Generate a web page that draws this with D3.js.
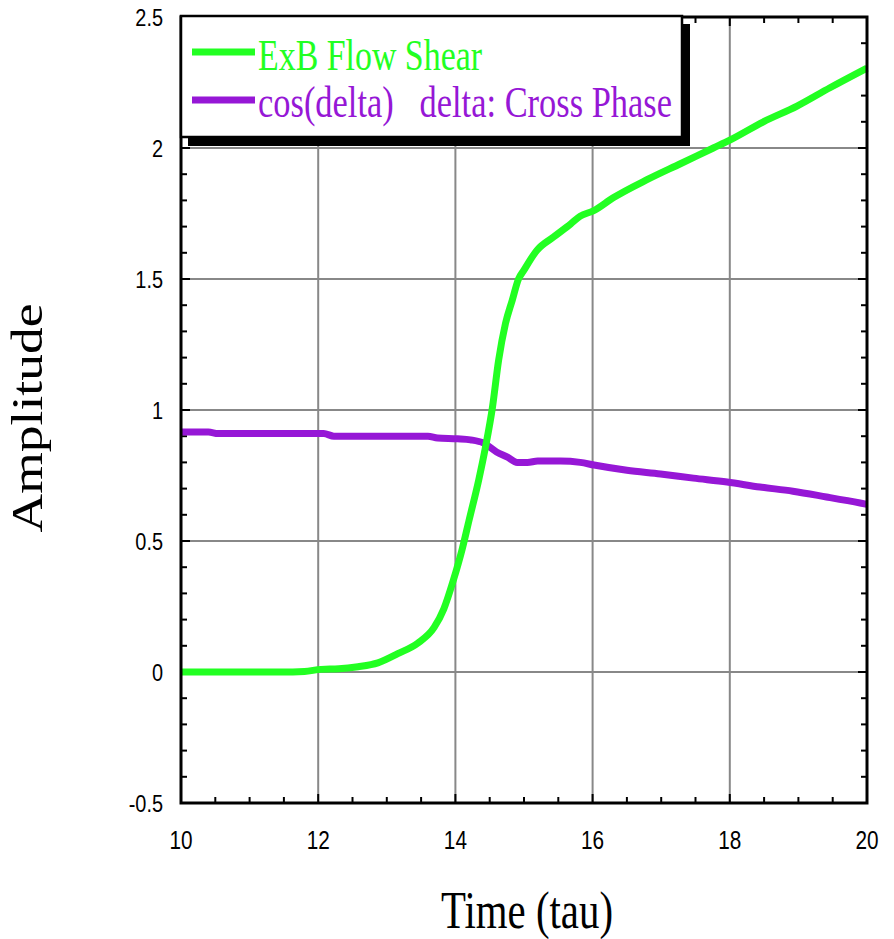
<!DOCTYPE html>
<html>
<head>
<meta charset="utf-8">
<script src="https://cdn.jsdelivr.net/npm/d3@7"></script>
<style>
  body { margin: 0; background: #fff; }
  svg { display: block; }
</style>
</head>
<body>
<div id="chart"></div>
<script>
// values
var shearTime = [10, 11, 11.46, 11.8, 12.04, 12.3, 12.58, 12.87, 13.16, 13.45, 13.69, 13.83, 13.97, 14.1, 14.2, 14.34, 14.44,
  14.54, 14.63, 14.73, 14.83, 14.92, 14.99, 15.19, 15.43, 15.68, 15.82, 16.01, 16.3, 16.8, 17.28, 17.76, 18.0,
  18.49, 18.98, 19.46, 20];
var shearValue = [0, 0, 0, 0.002, 0.01, 0.012, 0.02, 0.035, 0.07, 0.11, 0.17, 0.24, 0.35, 0.47, 0.58, 0.733, 0.86,
  1.01, 1.19, 1.33, 1.42, 1.5, 1.53, 1.61, 1.66, 1.71, 1.74, 1.76, 1.81, 1.88, 1.94, 2.0, 2.03,
  2.1, 2.16, 2.23, 2.305];

var cosTime = [10, 10.4, 10.54, 12.08, 12.23, 13.6, 13.74, 14.03, 14.22, 14.41, 14.6, 14.76, 14.9, 15.05, 15.2,
  15.53, 15.82, 16.02, 16.5, 16.99, 17.47, 17.96, 18.44, 18.92, 19.41, 19.9, 20];
var cosValue = [0.916, 0.916, 0.91, 0.91, 0.9, 0.9, 0.893, 0.89, 0.886, 0.874, 0.84, 0.82, 0.8, 0.8, 0.805,
  0.805, 0.8, 0.79, 0.77, 0.756, 0.74, 0.725, 0.706, 0.69, 0.668, 0.645, 0.64];

var xMajor = [10, 12, 14, 16, 18, 20];
var yMajor = [-0.5, 0, 0.5, 1, 1.5, 2, 2.5];
var legendLabels = ["ExB Flow Shear", "cos(delta)   delta: Cross Phase"];

var green = "#22ff22";
var purple = "#9617d6";

var svgWidth = 894, svgHeight = 939;
var margin = { top: 17, right: 27, bottom: 136, left: 181 };
var width = svgWidth - margin.left - margin.right;
var height = svgHeight - margin.top - margin.bottom;

var svg = d3.select("#chart").append("svg")
  .attr("width", svgWidth)
  .attr("height", svgHeight);

var g = svg.append("g")
  .attr("transform", `translate(${margin.left},${margin.top})`);

var x = d3.scaleLinear().domain([10, 20]).range([0, width]);
var y = d3.scaleLinear().domain([-0.5, 2.5]).range([height, 0]);

// grid
g.selectAll(".vgrid").data(xMajor.slice(1, -1)).enter().append("line")
  .attr("x1", d => x(d)).attr("x2", d => x(d))
  .attr("y1", 0).attr("y2", height)
  .attr("stroke", "#888").attr("stroke-width", 2);
g.selectAll(".hgrid").data(yMajor.slice(1, -1)).enter().append("line")
  .attr("x1", 0).attr("x2", width)
  .attr("y1", d => y(d)).attr("y2", d => y(d))
  .attr("stroke", "#888").attr("stroke-width", 2);

// inward ticks on all four sides
var xMinor = d3.range(10, 20.001, 0.5);
var yMinor = d3.range(-0.5, 2.5001, 0.1);
function isMajor(v, step) { return Math.abs(v / step - Math.round(v / step)) < 1e-6; }

var ticks = g.append("g").attr("stroke", "#000").attr("stroke-width", 2);
xMinor.forEach(function (v) {
  var len = isMajor(v, 2) ? 9 : 6;
  ticks.append("line").attr("x1", x(v)).attr("x2", x(v)).attr("y1", height).attr("y2", height - len);
  ticks.append("line").attr("x1", x(v)).attr("x2", x(v)).attr("y1", 0).attr("y2", len);
});
yMinor.forEach(function (v) {
  var len = isMajor(v, 0.5) ? 9 : 6;
  ticks.append("line").attr("x1", 0).attr("x2", len).attr("y1", y(v)).attr("y2", y(v));
  ticks.append("line").attr("x1", width).attr("x2", width - len).attr("y1", y(v)).attr("y2", y(v));
});

// tick labels (narrow, like the original)
g.selectAll(".xlab").data(xMajor).enter().append("text")
  .attr("transform", d => `translate(${x(d)},${height + 46}) scale(0.83,1)`)
  .attr("text-anchor", "middle")
  .attr("font-family", "Liberation Sans, Arial, sans-serif")
  .attr("font-size", 25)
  .text(d => d);
g.selectAll(".ylab").data(yMajor).enter().append("text")
  .attr("transform", d => `translate(-18,${y(d)}) scale(0.83,1)`)
  .attr("text-anchor", "end")
  .attr("dy", "0.36em")
  .attr("font-family", "Liberation Sans, Arial, sans-serif")
  .attr("font-size", 24)
  .text(d => d);

// curves
var line = d3.line().x(d => x(d[0])).y(d => y(d[1])).curve(d3.curveMonotoneX);
g.append("path")
  .datum(d3.zip(cosTime, cosValue))
  .attr("d", line)
  .attr("fill", "none").attr("stroke", purple).attr("stroke-width", 7);
g.append("path")
  .datum(d3.zip(shearTime, shearValue))
  .attr("d", line)
  .attr("fill", "none").attr("stroke", green).attr("stroke-width", 7);

// frame
g.append("rect")
  .attr("width", width).attr("height", height)
  .attr("fill", "none").attr("stroke", "#000").attr("stroke-width", 3);

// legend with drop shadow
var legend = svg.append("g");
legend.append("rect").attr("x", 188).attr("y", 24).attr("width", 502).attr("height", 122).attr("fill", "#000");
legend.append("rect").attr("x", 181).attr("y", 16).attr("width", 501).attr("height", 121)
  .attr("fill", "#fff").attr("stroke", "#000").attr("stroke-width", 2.5);
var legendColors = [green, purple];
var legendY = [52, 100];
var legendBase = [70, 117];
var legendLen = [224, 414];
legendLabels.forEach(function (label, i) {
  legend.append("line")
    .attr("x1", 192).attr("x2", 255).attr("y1", legendY[i]).attr("y2", legendY[i])
    .attr("stroke", legendColors[i]).attr("stroke-width", 7);
  legend.append("text")
    .attr("x", 258).attr("y", legendBase[i])
    .attr("font-family", "Liberation Serif, Times New Roman, serif")
    .attr("font-size", 45)
    .attr("fill", legendColors[i])
    .attr("textLength", legendLen[i])
    .attr("lengthAdjust", "spacingAndGlyphs")
    .style("white-space", "pre")
    .text(label);
});

// axis titles
svg.append("text")
  .attr("x", 441).attr("y", 928)
  .attr("font-family", "Liberation Serif, Times New Roman, serif")
  .attr("font-size", 53)
  .attr("textLength", 172)
  .attr("lengthAdjust", "spacingAndGlyphs")
  .text("Time (tau)");
svg.append("text")
  .attr("transform", "translate(42,418) scale(0.82,1) rotate(-90)")
  .attr("text-anchor", "middle")
  .attr("font-family", "Liberation Serif, Times New Roman, serif")
  .attr("font-size", 53.5)
  .text("Amplitude");
</script>
</body>
</html>
